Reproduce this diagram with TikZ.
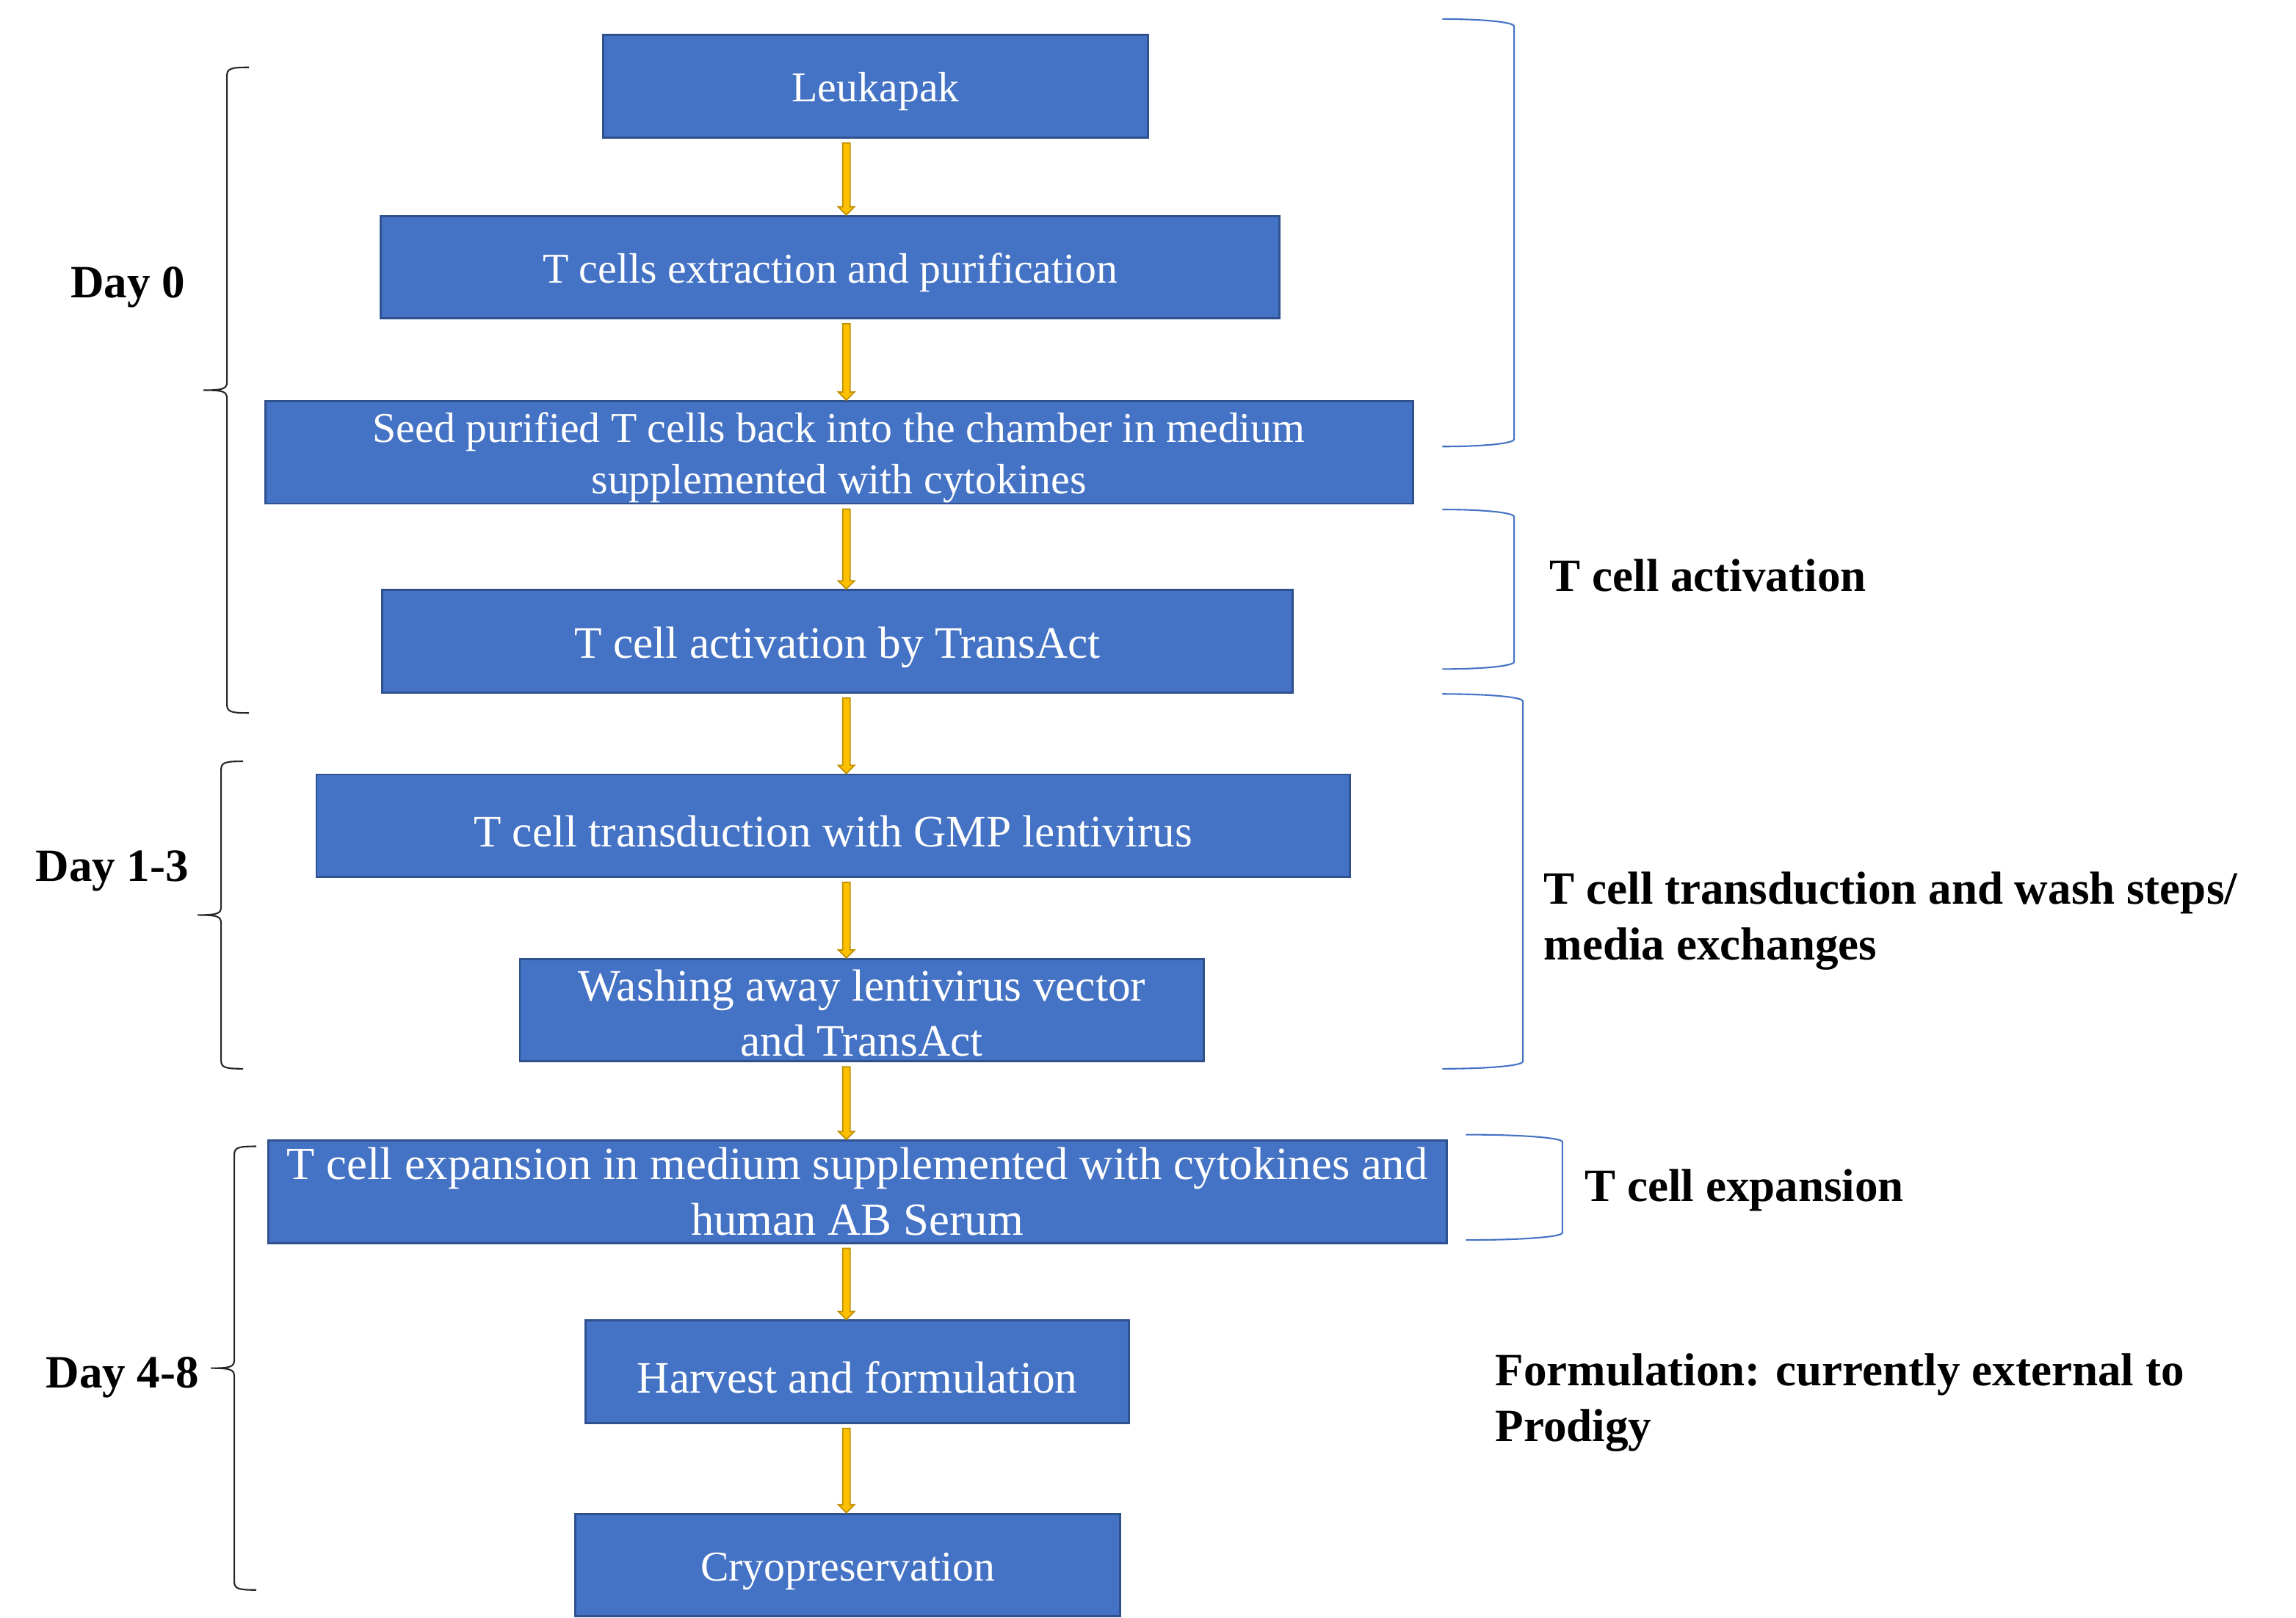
\documentclass[tikz,border=0pt]{standalone}
\usepackage{fontspec}
\setmainfont{Liberation Serif}
\usetikzlibrary{calc}

\begin{document}
\begin{tikzpicture}[x=0.02cm,y=-0.02cm,
    stepbox/.style={draw=boxline,fill=boxblue,line width=0.8pt,text=white,inner sep=0pt,
      align=center,minimum height=1.4cm,font=\fontsize{16.5}{20}\selectfont,
      execute at begin node={\rule{0pt}{0.95em}}},
    bigtext/.style={font=\fontsize{17.5}{21.5}\selectfont},
    sidelabel/.style={anchor=west,align=left,inner sep=0pt,font=\bfseries\fontsize{18}{21.6}\selectfont},
    daybrace/.style={draw=black!85,line width=0.6pt},
    stagebracket/.style={draw=boxblue,line width=0.6pt},
    flowarrow/.style={fill=arrowyellow,draw=arrowedge,line width=0.5pt}]
    \definecolor{boxblue}{HTML}{4472C4}
    \definecolor{boxline}{HTML}{2F528F}
    \definecolor{arrowyellow}{HTML}{FFC000}
    \definecolor{arrowedge}{HTML}{BF9000}
    \useasboundingbox (0,0) rectangle (1568,1105);
    \coordinate (ax) at (578,0);

    % process steps
    \node[stepbox,minimum width=7.44cm] (leukapak) at (598,59) {Leukapak};
    \node[stepbox,minimum width=12.28cm] (extract) at (567,182.5) {T cells extraction and purification};
    \node[stepbox,minimum width=15.68cm] (seed) at (573,309) {\rule{0pt}{0.96em}Seed purified T cells back into the chamber in medium\\supplemented with cytokines};
    \node[stepbox,bigtext,minimum width=12.44cm] (activ) at (572,438) {T cell activation by TransAct};
    \node[stepbox,bigtext,minimum width=14.12cm] (transd) at (569,564) {T cell transduction with GMP lentivirus};
    \node[stepbox,bigtext,minimum width=9.34cm] (wash) at (588.5,690) {\rule{0pt}{0.82em}Washing away lentivirus vector\\and TransAct};
    \node[stepbox,font=\fontsize{17.9}{21.6}\selectfont,minimum width=16.1cm] (expand) at (585.5,814) {T cell expansion in medium supplemented with cytokines and\\human AB Serum};
    \node[stepbox,bigtext,minimum width=7.42cm] (harvest) at (585.5,937) {Harvest and formulation};
    \node[stepbox,minimum width=7.44cm] (cryo) at (579,1069) {Cryopreservation};

    % block arrows
    \foreach \a/\b in {leukapak/extract,extract/seed,seed/activ,activ/transd,transd/wash,wash/expand,expand/harvest,harvest/cryo}
      \filldraw[flowarrow] let \p1=(\a.south -| ax), \p2=(\b.north -| ax) in
        (\x1-0.05cm,\y1-0.06cm) -- (\x1+0.05cm,\y1-0.06cm) -- (\x1+0.05cm,\y2+0.11cm)
        -- (\x1+0.11cm,\y2+0.11cm) -- (\x1,\y2) -- (\x1-0.11cm,\y2+0.11cm)
        -- (\x1-0.05cm,\y2+0.11cm) -- cycle;

    % day braces
    \foreach \t/\b/\v in {46/487/155,520/730/151,783/1086/160}
      \draw[daybrace] (\v+15,\t) .. controls (\v+2,\t) and (\v,\t+1) .. (\v,\t+6)
        -- (\v,{(\t+\b)/2-6}) .. controls (\v,{(\t+\b)/2-1}) and (\v-2,{(\t+\b)/2}) .. (\v-16,{(\t+\b)/2})
        .. controls (\v-2,{(\t+\b)/2}) and (\v,{(\t+\b)/2+1}) .. (\v,{(\t+\b)/2+6})
        -- (\v,\b-6) .. controls (\v,\b-1) and (\v+2,\b) .. (\v+15,\b);
    \node[sidelabel] (day0) at (48,196) {Day 0};
    \node[sidelabel] (day13) at (24,595) {Day 1-3};
    \node[sidelabel] (day48) at (31,941) {Day 4-8};

    % stage brackets
    \foreach \t/\b/\l/\v in {13/305/985/1034,348/457/985/1034,474/730/985/1040,775/847/1001/1067}
      \draw[stagebracket] (\l,\t) .. controls ({\l+0.55*(\v-\l)},\t) and (\v,\t+2) .. (\v,\t+5)
        -- (\v,\b-5) .. controls (\v,\b-2) and ({\l+0.55*(\v-\l)},\b) .. (\l,\b);
    \node[sidelabel] (lblactiv) at (1058,393) {T cell activation};
    \node[sidelabel] (lbltransd) at (1054,629) {T cell transduction and wash steps/\\media exchanges};
    \node[sidelabel] (lblexpand) at (1082,813) {T cell expansion};
    \node[sidelabel] (lblform) at (1021,958) {Formulation: currently external to\\Prodigy};
\end{tikzpicture}
\end{document}
